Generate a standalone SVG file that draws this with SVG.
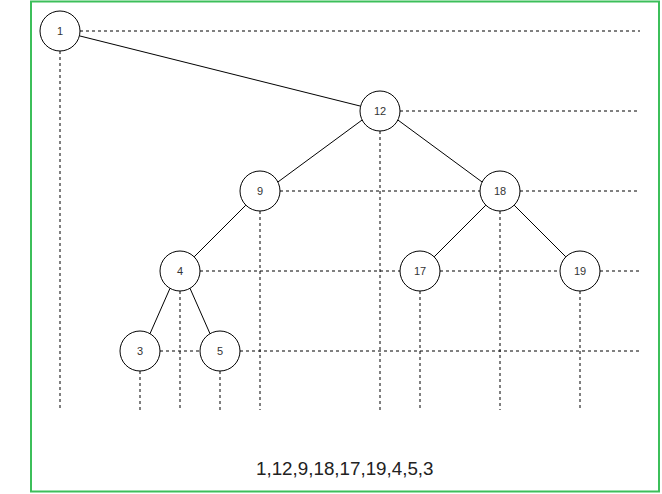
<svg xmlns="http://www.w3.org/2000/svg" width="662" height="494" viewBox="0 0 662 494">
<style>
.n circle{fill:#fff;stroke:#000;stroke-width:1}
.n text{font-family:"Liberation Sans",Arial,sans-serif;font-size:11px;fill:#333;text-anchor:middle;dominant-baseline:central}
.e{stroke:#000;stroke-width:1;fill:none}
.d{stroke:#000;stroke-width:1;stroke-dasharray:3 3;fill:none}
</style>
<rect x="31" y="1.5" width="628" height="490" fill="#fff" stroke="#3cbf5a" stroke-width="2"/>
<g id="connectors">
<path class="d" d="M80 31H640M400 111H640M280 191H480M520 191H640M200 271H400M440 271H560M600 271H640M160 351H200M240 351H640"/>
<path class="d" d="M60 51V410M380 131V410M260 211V410M500 211V410M180 291V410M420 291V410M580 291V410M140 371V410M220 371V410"/>
<line class="e" x1="79.6" y1="35.9" x2="360.4" y2="106.1"/>
<line class="e" x1="362.1" y1="120" x2="277.9" y2="182"/>
<line class="e" x1="397.9" y1="120" x2="482.1" y2="182"/>
<line class="e" x1="245.9" y1="205.1" x2="194.1" y2="256.9"/>
<line class="e" x1="485.9" y1="205.1" x2="434.1" y2="256.9"/>
<line class="e" x1="514.1" y1="205.1" x2="565.9" y2="256.9"/>
<line class="e" x1="170" y1="288.3" x2="150" y2="333.7"/>
<line class="e" x1="190" y1="288.3" x2="210" y2="333.7"/>
</g>
<g id="n1" class="n"><circle cx="60" cy="31" r="20"/><text x="60" y="31">1</text></g>
<g id="n12" class="n"><circle cx="380" cy="111" r="20"/><text x="380" y="111">12</text></g>
<g id="n9" class="n"><circle cx="260" cy="191" r="20"/><text x="260" y="191">9</text></g>
<g id="n18" class="n"><circle cx="500" cy="191" r="20"/><text x="500" y="191">18</text></g>
<g id="n4" class="n"><circle cx="180" cy="271" r="20"/><text x="180" y="271">4</text></g>
<g id="n17" class="n"><circle cx="420" cy="271" r="20"/><text x="420" y="271">17</text></g>
<g id="n19" class="n"><circle cx="580" cy="271" r="20"/><text x="580" y="271">19</text></g>
<g id="n3" class="n"><circle cx="140" cy="351" r="20"/><text x="140" y="351">3</text></g>
<g id="n5" class="n"><circle cx="220" cy="351" r="20"/><text x="220" y="351">5</text></g>
<text x="256" y="475" font-family="'Liberation Sans',Arial,sans-serif" font-size="18.8" fill="#222">1,12,9,18,17,19,4,5,3</text>
</svg>
